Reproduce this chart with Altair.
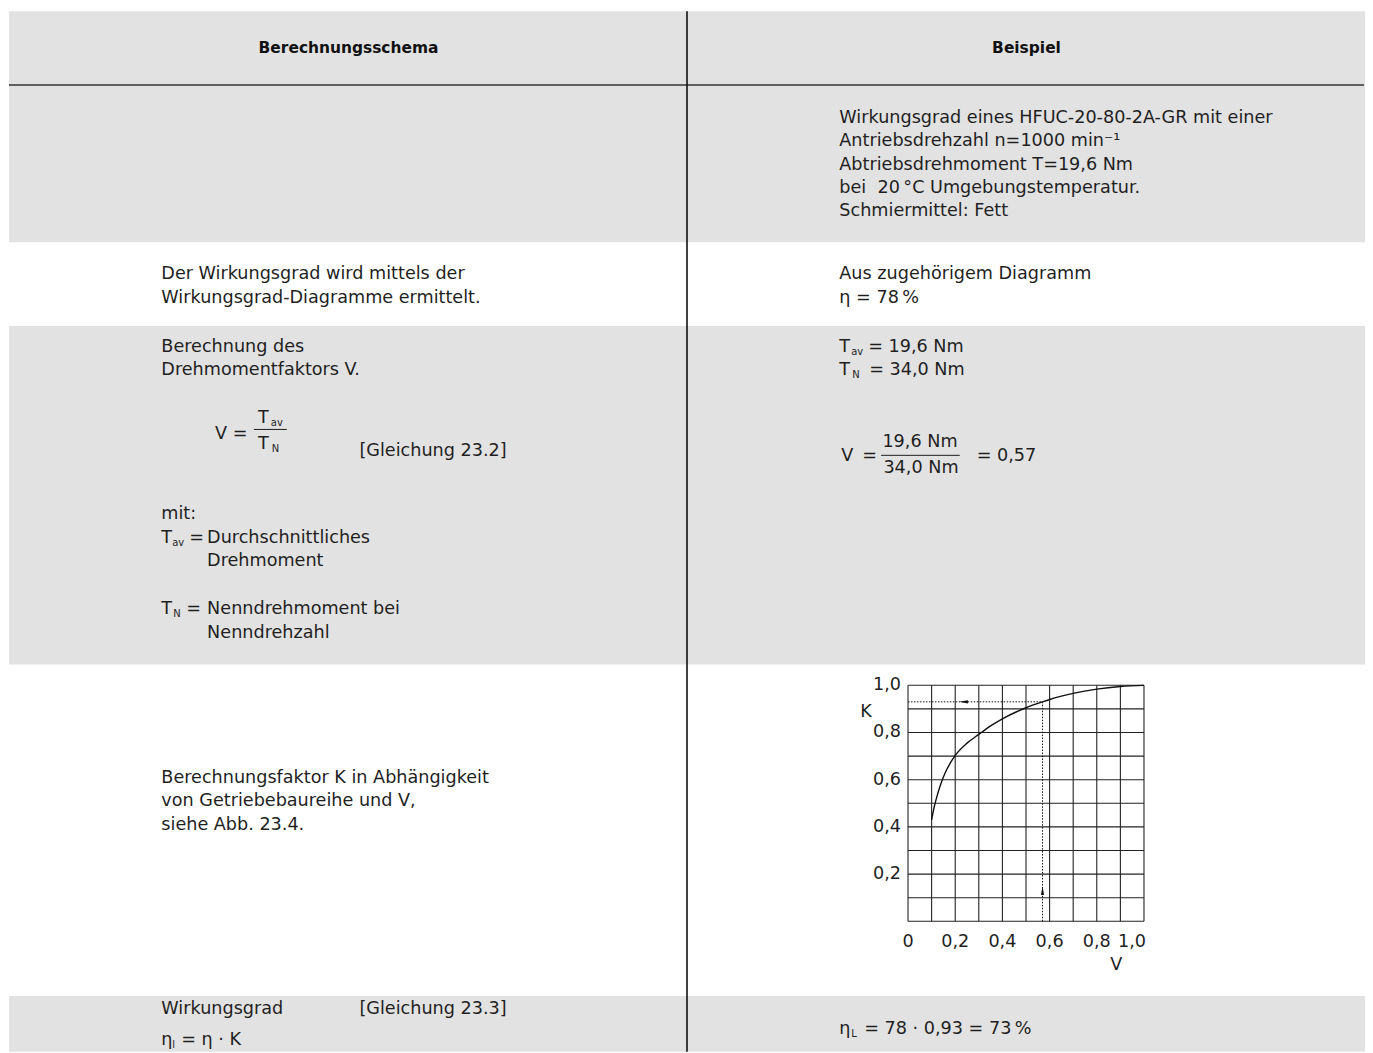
import altair as alt
import pandas as pd

# ---------------- chart data (K over V, Abb. 23.4 example) ----------------
V_VALUES = [0.10, 0.11, 0.12, 0.14, 0.16, 0.18, 0.20, 0.25, 0.30, 0.35, 0.40, 0.50, 0.57, 0.60, 0.70, 0.80, 0.90, 1.00]
K_VALUES = [0.43, 0.48, 0.52, 0.585, 0.635, 0.672, 0.703, 0.755, 0.792, 0.828, 0.858, 0.905, 0.930, 0.940, 0.966, 0.984, 0.995, 1.00]
GRID_STEPS = [0.0, 0.1, 0.2, 0.3, 0.4, 0.5, 0.6, 0.7, 0.8, 0.9, 1.0]
X_TICKS = [0.0, 0.2, 0.4, 0.6, 0.8]
X_TICK_LABELS = ["0", "0,2", "0,4", "0,6", "0,8"]
X_LAST_TICK = [1.0]
X_LAST_LABEL = ["1,0"]
Y_TICKS = [0.2, 0.4, 0.6, 0.8, 1.0]
Y_TICK_LABELS = ["0,2", "0,4", "0,6", "0,8", "1,0"]
V_EXAMPLE = 0.57
K_EXAMPLE = 0.93
ARROW_LEFT_AT_V = 0.235
ARROW_UP_AT_K = 0.13

# ---------------- table texts ----------------
HEADERS = ["Berechnungsschema", "Beispiel"]
R1_RIGHT = ["Wirkungsgrad eines HFUC-20-80-2A-GR mit einer",
            "Antriebsdrehzahl n=1000 min\u207b\u00b9",
            "Abtriebsdrehmoment T=19,6 Nm",
            "bei \u00a020\u2009°C Umgebungstemperatur.",
            "Schmiermittel: Fett"]
R2_LEFT = ["Der Wirkungsgrad wird mittels der", "Wirkungsgrad-Diagramme ermittelt."]
R2_RIGHT = ["Aus zugehörigem Diagramm", "\u03b7 = 78\u2009%"]
R3_LEFT = ["Berechnung des", "Drehmomentfaktors V."]
R3_EQ = ["V =", "T", "av", "T", "N", "[Gleichung 23.2]"]
R3_MIT = ["mit:", "T", "av", "=", "Durchschnittliches", "Drehmoment",
          "T", "N", "=", "Nenndrehmoment bei", "Nenndrehzahl"]
R3_RIGHT = ["T", "av", "= 19,6 Nm", "T", "N", "= 34,0 Nm",
            "V", "=", "19,6 Nm", "34,0 Nm", "= 0,57"]
R4_LEFT = ["Berechnungsfaktor K in Abhängigkeit", "von Getriebebaureihe und V,", "siehe Abb. 23.4."]
R5_LEFT = ["Wirkungsgrad", "[Gleichung 23.3]", "\u03b7", "l", "= \u03b7 \u00b7 K"]
R5_RIGHT = ["\u03b7", "L", "= 78 \u00b7 0,93 = 73\u2009%"]
AXIS_TITLES = ["K", "V"]

# ---------------- layout (page pixels) ----------------
OX, OY = 8, 8
W, H = 1362, 1045
FONT = "DejaVu Sans"
FS = 17.7
SUB = 10
TXT = "#1f1f1f"
GRAY = "#e2e2e2"


def px(x):
    return x - OX


def py(y):
    return y - OY


ROW_EDGES = [8, 82, 240, 324, 664, 997, 1053]
GRAY_ROWS = [0, 1, 3, 5]

bg = pd.DataFrame([{"x0": px(8), "x1": px(1370), "y0": py(ROW_EDGES[i]), "y1": py(ROW_EDGES[i + 1])}
                   for i in GRAY_ROWS])


def block(lines, x, y0, step=23.5):
    return [{"x": px(x), "y": py(y0 + i * step), "t": s} for i, s in enumerate(lines)]


body = []
body += block(R1_RIGHT, 842, 115)
body += block(R2_LEFT, 161, 272)
body += block(R2_RIGHT, 842, 272)
body += block(R3_LEFT, 161, 345)
body += block(R4_LEFT, 161, 778)
body += [
    {"x": px(215), "y": py(433), "t": R3_EQ[0]},
    {"x": px(258), "y": py(417), "t": R3_EQ[1]},
    {"x": px(258), "y": py(443), "t": R3_EQ[3]},
    {"x": px(360), "y": py(450), "t": R3_EQ[5]},
    {"x": px(161), "y": py(513), "t": R3_MIT[0]},
    {"x": px(161), "y": py(537), "t": R3_MIT[1]},
    {"x": px(189), "y": py(537), "t": R3_MIT[3]},
    {"x": px(207), "y": py(537), "t": R3_MIT[4]},
    {"x": px(207), "y": py(560), "t": R3_MIT[5]},
    {"x": px(161), "y": py(608), "t": R3_MIT[6]},
    {"x": px(186), "y": py(608), "t": R3_MIT[8]},
    {"x": px(207), "y": py(608), "t": R3_MIT[9]},
    {"x": px(207), "y": py(632), "t": R3_MIT[10]},
    {"x": px(842), "y": py(345), "t": R3_RIGHT[0]},
    {"x": px(871), "y": py(345), "t": R3_RIGHT[2]},
    {"x": px(842), "y": py(368), "t": R3_RIGHT[3]},
    {"x": px(872), "y": py(368), "t": R3_RIGHT[5]},
    {"x": px(844), "y": py(455), "t": R3_RIGHT[6]},
    {"x": px(865), "y": py(455), "t": R3_RIGHT[7]},
    {"x": px(980), "y": py(455), "t": R3_RIGHT[10]},
    {"x": px(161), "y": py(1010), "t": R5_LEFT[0]},
    {"x": px(360), "y": py(1010), "t": R5_LEFT[1]},
    {"x": px(161), "y": py(1041), "t": R5_LEFT[2]},
    {"x": px(181), "y": py(1041), "t": R5_LEFT[4]},
    {"x": px(842), "y": py(1030), "t": R5_RIGHT[0]},
    {"x": px(867), "y": py(1030), "t": R5_RIGHT[2]},
    {"x": px(863), "y": py(712), "t": AXIS_TITLES[0]},
    {"x": px(1114), "y": py(966), "t": AXIS_TITLES[1]},
]
body_df = pd.DataFrame(body)

centered = pd.DataFrame([
    {"x": px(923), "y": py(441), "t": R3_RIGHT[8]},
    {"x": px(924), "y": py(467), "t": R3_RIGHT[9]},
])

subs = pd.DataFrame([
    {"x": px(271), "y": py(422), "t": R3_EQ[2]},
    {"x": px(272), "y": py(448), "t": R3_EQ[4]},
    {"x": px(172), "y": py(542), "t": R3_MIT[2]},
    {"x": px(173), "y": py(613), "t": R3_MIT[7]},
    {"x": px(854), "y": py(350), "t": R3_RIGHT[1]},
    {"x": px(855), "y": py(373), "t": R3_RIGHT[4]},
    {"x": px(172), "y": py(1046), "t": R5_LEFT[3]},
    {"x": px(854), "y": py(1035), "t": R5_RIGHT[1]},
])

heads = pd.DataFrame([
    {"x": px(349), "y": py(45), "t": HEADERS[0]},
    {"x": px(1030), "y": py(45), "t": HEADERS[1]},
])

lines_df = pd.DataFrame([
    {"x0": px(8), "x1": px(1369), "y0": py(82), "y1": py(82), "c": "#333333", "w": 1.6},
    {"x0": px(689), "x1": px(689), "y0": py(8), "y1": py(1053), "c": "#111111", "w": 1.6},
    {"x0": px(254), "x1": px(287), "y0": py(428), "y1": py(428), "c": TXT, "w": 1.0},
    {"x0": px(884), "x1": px(963), "y0": py(454), "y1": py(454), "c": TXT, "w": 1.0},
])

NONE_X = dict(scale=None, axis=None)

bg_layer = alt.Chart(bg).mark_rect(color=GRAY).encode(
    x=alt.X("x0:Q", **NONE_X), x2="x1:Q",
    y=alt.Y("y0:Q", **NONE_X), y2="y1:Q")

rule_layer = alt.Chart(lines_df).mark_rule().encode(
    x=alt.X("x0:Q", **NONE_X), x2="x1:Q",
    y=alt.Y("y0:Q", **NONE_X), y2="y1:Q",
    color=alt.Color("c:N", scale=None),
    strokeWidth=alt.StrokeWidth("w:Q", scale=None))

body_layer = alt.Chart(body_df).mark_text(
    align="left", baseline="middle", font=FONT, fontSize=FS, color=TXT).encode(
    x=alt.X("x:Q", **NONE_X), y=alt.Y("y:Q", **NONE_X), text="t:N")

center_layer = alt.Chart(centered).mark_text(
    align="center", baseline="middle", font=FONT, fontSize=FS, color=TXT).encode(
    x=alt.X("x:Q", **NONE_X), y=alt.Y("y:Q", **NONE_X), text="t:N")

sub_layer = alt.Chart(subs).mark_text(
    align="left", baseline="middle", font=FONT, fontSize=SUB, color=TXT).encode(
    x=alt.X("x:Q", **NONE_X), y=alt.Y("y:Q", **NONE_X), text="t:N")

head_layer = alt.Chart(heads).mark_text(
    align="center", baseline="middle", font=FONT, fontSize=15.5, fontWeight="bold", color="#111111").encode(
    x=alt.X("x:Q", **NONE_X), y=alt.Y("y:Q", **NONE_X), text="t:N")

# ---------------- K(V) diagram, drawn through real scales ----------------
XS = alt.Scale(domain=[0, 1], range=[px(911), px(1148)], nice=False, zero=False)
YS = alt.Scale(domain=[0, 1], range=[py(922), py(685)], nice=False, zero=False)

vgrid = pd.DataFrame({"v": GRID_STEPS, "k0": [GRID_STEPS[0]] * len(GRID_STEPS),
                      "k1": [GRID_STEPS[-1]] * len(GRID_STEPS)})
hgrid = pd.DataFrame({"k": GRID_STEPS, "v0": [GRID_STEPS[0]] * len(GRID_STEPS),
                      "v1": [GRID_STEPS[-1]] * len(GRID_STEPS)})

vgrid_layer = alt.Chart(vgrid).mark_rule(color="#222222", strokeWidth=1.1).encode(
    x=alt.X("v:Q", scale=XS, axis=None),
    y=alt.Y("k0:Q", scale=YS, axis=None), y2="k1:Q")
hgrid_layer = alt.Chart(hgrid).mark_rule(color="#222222", strokeWidth=1.1).encode(
    y=alt.Y("k:Q", scale=YS, axis=None),
    x=alt.X("v0:Q", scale=XS, axis=None), x2="v1:Q")

curve = pd.DataFrame({"V": V_VALUES, "K": K_VALUES})
curve_layer = alt.Chart(curve).mark_line(color="#111111", strokeWidth=1.4, interpolate="monotone").encode(
    x=alt.X("V:Q", scale=XS, axis=None),
    y=alt.Y("K:Q", scale=YS, axis=None),
    order="V:Q")

dots = pd.DataFrame([
    {"v0": 0.0, "v1": V_EXAMPLE, "k0": K_EXAMPLE, "k1": K_EXAMPLE},
    {"v0": V_EXAMPLE, "v1": V_EXAMPLE, "k0": 0.0, "k1": K_EXAMPLE},
])
dots_layer = alt.Chart(dots).mark_rule(color="#111111", strokeWidth=1, strokeDash=[1.5, 1.5]).encode(
    x=alt.X("v0:Q", scale=XS, axis=None), x2="v1:Q",
    y=alt.Y("k0:Q", scale=YS, axis=None), y2="k1:Q")

arrows = pd.DataFrame([
    {"v": ARROW_LEFT_AT_V, "k": K_EXAMPLE, "s": "M -1 0 L 1 -0.35 L 1 0.35 Z"},
    {"v": V_EXAMPLE, "k": ARROW_UP_AT_K, "s": "M 0 -1 L 0.35 1 L -0.35 1 Z"},
])
arrow_layer = alt.Chart(arrows).mark_point(filled=True, color="#111111", size=80, opacity=1).encode(
    x=alt.X("v:Q", scale=XS, axis=None),
    y=alt.Y("k:Q", scale=YS, axis=None),
    shape=alt.Shape("s:N", scale=None))

xlab = pd.DataFrame({"v": X_TICKS, "t": X_TICK_LABELS})
xlab_layer = alt.Chart(xlab).mark_text(
    align="center", baseline="middle", font=FONT, fontSize=FS, color=TXT).encode(
    x=alt.X("v:Q", scale=XS, axis=None), y=alt.value(py(943)), text="t:N")
xlast = pd.DataFrame({"v": X_LAST_TICK, "t": X_LAST_LABEL})
xlast_layer = alt.Chart(xlast).mark_text(
    align="right", baseline="middle", font=FONT, fontSize=FS, color=TXT, dx=2).encode(
    x=alt.X("v:Q", scale=XS, axis=None), y=alt.value(py(943)), text="t:N")

ylab = pd.DataFrame({"k": Y_TICKS, "t": Y_TICK_LABELS})
ylab_layer = alt.Chart(ylab).mark_text(
    align="right", baseline="middle", font=FONT, fontSize=FS, color=TXT).encode(
    y=alt.Y("k:Q", scale=YS, axis=None), x=alt.value(px(904)), text="t:N")

chart = alt.layer(
    bg_layer, rule_layer, body_layer, center_layer, sub_layer, head_layer,
    vgrid_layer, hgrid_layer, curve_layer, dots_layer, arrow_layer,
    xlab_layer, xlast_layer, ylab_layer,
).resolve_scale(
    x="independent", y="independent", color="independent",
    strokeWidth="independent", shape="independent"
).properties(
    width=W, height=H, padding=0, background="white"
).configure_view(stroke=None)

chart.save("out.html", embed_options={"renderer": "svg", "actions": False})
